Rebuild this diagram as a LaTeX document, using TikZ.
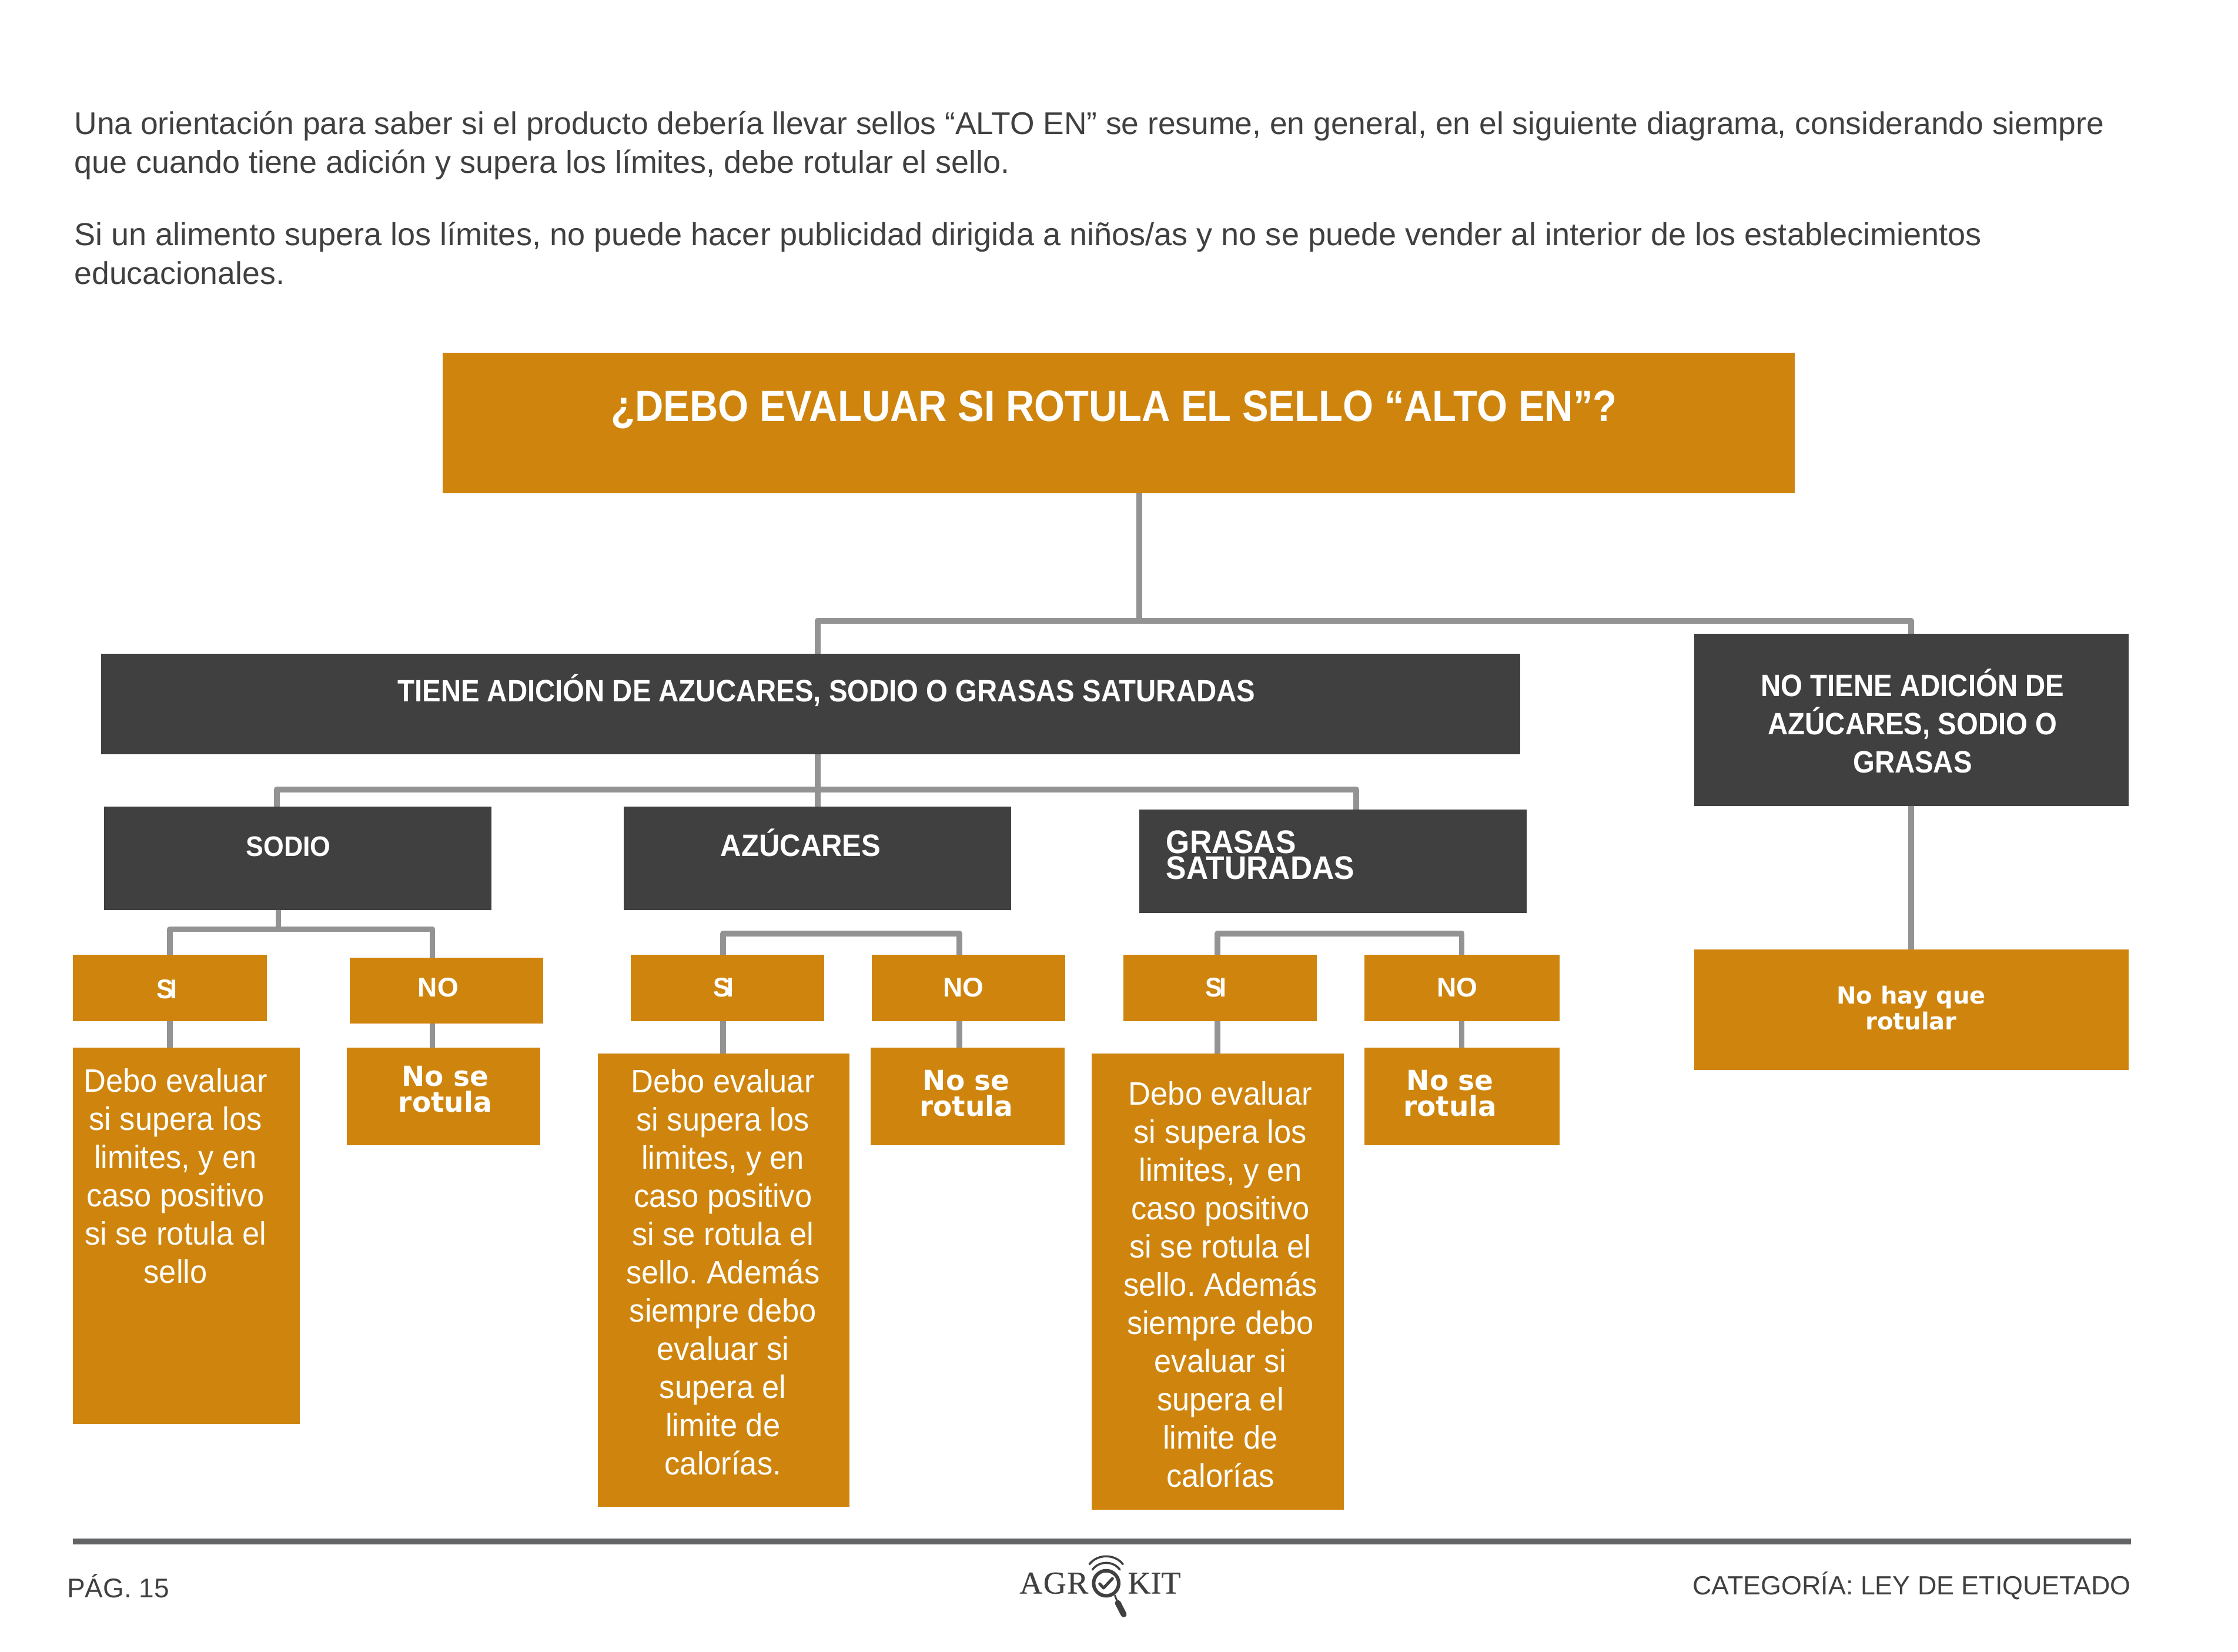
\documentclass[tikz,border=0pt]{standalone}
\usepackage{fontspec}
\setmainfont{Liberation Sans}
\newfontfamily\widefont{DejaVu Sans}
\newfontfamily\logofont[FakeBold=0.5]{Liberation Serif}
\newfontfamily\condfont[FakeStretch=0.9]{Liberation Sans}
\newfontfamily\subfont[FakeStretch=0.93]{Liberation Sans}
\newfontfamily\bodyfont[FakeStretch=0.95]{Liberation Sans}
\usetikzlibrary{calc}
\definecolor{gold}{HTML}{CF850D}
\definecolor{slate}{HTML}{404040}
\definecolor{wire}{HTML}{939393}
\definecolor{rule}{HTML}{636466}
\def\U{2.42793}
\newcommand{\fs}[2]{\fontsize{#1}{#2}\selectfont}
\newcommand{\bx}[6]{\node[#6,minimum width={(#4-#2)*\U*1pt},minimum height={(#5-#3)*\U*1pt}] (#1) at ({(#2+#4)/2},{(#3+#5)/2}) {};}
\newcommand{\siword}{S\kern-5pt I}
\tikzset{
  x=2.42793pt,y=-2.42793pt,
  goldbox/.style={fill=gold,draw=none,inner sep=0pt,outer sep=0pt},
  darkbox/.style={fill=slate,draw=none,inner sep=0pt,outer sep=0pt},
  conn/.style={draw=wire,line width=10pt,line join=round},
  connthin/.style={draw=wire,line width=9.5pt,line join=round},
  lbl/.style={text=white,inner sep=0pt,align=center},
  head/.style={lbl,font=\condfont\bfseries\fs{52.6}{65}},
  sub/.style={lbl,font=\subfont\bfseries\fs{48}{44}},
  yesno/.style={lbl,font=\bfseries\fs{46}{50}},
  yestxt/.style={lbl,font=\subfont\bfseries\fs{46}{50}},
  bodytxt/.style={lbl,font=\bodyfont\frenchspacing\fs{55.2}{65}},
  nose/.style={lbl,font=\widefont\bfseries\fs{47}{44}},
  para/.style={text=slate,inner sep=0pt,align=left,anchor=west,font=\fs{53.6}{65.5}},
  foot/.style={text=slate,inner sep=0pt},
  logotxt/.style={text=slate,inner sep=0pt,font=\logofont\fs{54}{60}},
}
\begin{document}
\begin{tikzpicture}
\useasboundingbox (0,0) rectangle (1568,1157);
\fill[white] (0,0) rectangle (1568,1157);

% paragraphs
\node[para] (p1) at (52,102) {\fs{53.4}{65.5}Una orientación para saber si el producto debería llevar sellos “ALTO EN” se resume, en general, en el siguiente diagrama, considerando siempre\\\fs{53.9}{65.5}que cuando tiene adición y supera los límites, debe rotular el sello.};
\node[para] (p2) at (52,177.5) {\fs{54.1}{65.5}Si un alimento supera los límites, no puede hacer publicidad dirigida a niños/as y no se puede vender al interior de los establecimientos\\educacionales.};

% connector junctions
\coordinate (b0) at (798,435);
\coordinate (bL) at (573,435);
\coordinate (bR) at (1339,435);
\coordinate (c0) at (573,553);
\coordinate (cL) at (194,553);
\coordinate (cR) at (950,553);
\coordinate (d0) at (195,651);
\coordinate (dL) at (119,651);
\coordinate (dR) at (303,651);
\coordinate (eL) at (506.7,654);
\coordinate (eR) at (672.2,654);
\coordinate (fL) at (853,654);
\coordinate (fR) at (1024.2,654);

% boxes
\bx{top}{310}{247}{1257.5}{345.5}{goldbox}
\bx{tiene}{71}{458}{1065}{528.5}{darkbox}
\bx{notiene}{1187}{444}{1491.5}{564.5}{darkbox}
\bx{sodio}{73}{565}{344.5}{637.5}{darkbox}
\bx{azuc}{437}{565}{708.5}{637.5}{darkbox}
\bx{grasas}{798}{567}{1069.5}{639.5}{darkbox}
\bx{si1}{51}{669}{187}{715.5}{goldbox}
\bx{no1}{245}{671}{380.5}{717}{goldbox}
\bx{si2}{442}{669}{577.5}{715.5}{goldbox}
\bx{no2}{611}{669}{746.5}{715.5}{goldbox}
\bx{si3}{787}{669}{922.5}{715.5}{goldbox}
\bx{no3}{956}{669}{1092.5}{715.5}{goldbox}
\bx{deb1}{51}{734}{210}{997.5}{goldbox}
\bx{nos1}{243}{734}{378.5}{802.5}{goldbox}
\bx{deb2}{419}{738}{595}{1055.5}{goldbox}
\bx{nos2}{610}{734}{746}{802.5}{goldbox}
\bx{deb3}{765}{738}{941.5}{1057.5}{goldbox}
\bx{nos3}{956}{734}{1092.5}{802.5}{goldbox}
\bx{nohay}{1187}{665}{1491.5}{749.5}{goldbox}

\draw[conn] (top.south -| b0) -- (b0);
\draw[conn] (tiene.north -| bL) -- (bL) -- (bR) -- (notiene.north -| bR);
\draw[conn] (tiene.south -| c0) -- (c0);
\draw[conn] (sodio.north -| cL) -- (cL) -- (cR) -- (grasas.north -| cR);
\draw[conn] (azuc.north -| c0) -- (c0);
\draw[conn] (notiene.south -| bR) -- (nohay.north -| bR);
\draw[connthin] (sodio.south -| d0) -- (d0);
\draw[connthin] (si1.north -| dL) -- (dL) -- (dR) -- (no1.north -| dR);
\draw[connthin] (si1.south -| dL) -- (deb1.north -| dL);
\draw[connthin] (no1.south -| dR) -- (nos1.north -| dR);
\draw[connthin] (si2.north -| eL) -- (eL) -- (eR) -- (no2.north -| eR);
\draw[connthin] (si2.south -| eL) -- (deb2.north -| eL);
\draw[connthin] (no2.south -| eR) -- (nos2.north -| eR);
\draw[connthin] (si3.north -| fL) -- (fL) -- (fR) -- (no3.north -| fR);
\draw[connthin] (si3.south -| fL) -- (deb3.north -| fL);
\draw[connthin] (no3.south -| fR) -- (nos3.north -| fR);

% labels
\node[lbl,font=\condfont\bfseries\fs{74.4}{90}] (tTop) at (780.5,287) {¿DEBO EVALUAR SI ROTULA EL SELLO “ALTO EN”?};
\node[head] (tTiene) at (579,483.5) {TIENE ADICIÓN DE AZUCARES, SODIO O GRASAS SATURADAS};
\node[head] (tNo) at (1340,505) {NO TIENE ADICIÓN DE\\AZÚCARES, SODIO O\\GRASAS};
\node[sub] (tSodio) at (202,593) {SODIO};
\node[sub,font=\subfont\bfseries\fs{52.7}{44}] (tAzuc) at (561,590.5) {AZÚCARES};
\node[sub,align=left,anchor=west,font=\subfont\bfseries\fs{55.5}{44}] (tGras) at (817,599.2) {GRASAS\\SATURADAS};
\node[yestxt] (tSi1) at (117,693) {\siword};
\node[yesno] (tNo1) at (307,692) {NO};
\node[yestxt] (tSi2) at (507,692) {\siword};
\node[yesno] (tNo2) at (675,692) {NO};
\node[yestxt] (tSi3) at (852,692) {\siword};
\node[yesno] (tNo3) at (1021,692) {NO};
\node[bodytxt] (tD1) at (123,824) {Debo evaluar\\si supera los\\limites, y en\\caso positivo\\si se rotula el\\sello};
\node[bodytxt] (tD2) at (506.5,891) {Debo evaluar\\si supera los\\limites, y en\\caso positivo\\si se rotula el\\sello. Además\\siempre debo\\evaluar si\\supera el\\limite de\\calorías.};
\node[bodytxt] (tD3) at (855,900) {Debo evaluar\\si supera los\\limites, y en\\caso positivo\\si se rotula el\\sello. Además\\siempre debo\\evaluar si\\supera el\\limite de\\calorías};
\node[nose] (tN1) at (312,763) {No se\\rotula};
\node[nose] (tN2) at (677,766) {No se\\rotula};
\node[nose] (tN3) at (1016,766) {No se\\rotula};
\node[nose,font=\widefont\bfseries\fs{40}{44}] (tNH) at (1339,706) {No hay que\\rotular};

% footer
\draw[draw=rule,line width=10pt] (51,1080) -- (1493,1080);
\node[foot,anchor=west,font=\fs{46}{60}] (pg) at (47,1111) {PÁG. 15};
\node[foot,anchor=east,font=\fs{44.8}{60}] (cat) at (1493,1111) {CATEGORÍA: LEY DE ETIQUETADO};
\node[logotxt,anchor=base east] (lgA) at (762.6,1116.4) {A\kern1.5pt G\kern1.5pt R};
\node[logotxt,anchor=base west] (lgK) at (790.1,1116.4) {KIT};
\draw[slate,line width=6pt] (775,1109.2) circle [radius=8.8];
\draw[slate,line width=3.5pt,line cap=round] (765.4,1099.7) .. controls (770,1093.3) and (780,1093.3) .. (784.6,1099.7);
\draw[slate,line width=3.5pt,line cap=round] (763.3,1095.8) .. controls (769,1088.5) and (781,1088.5) .. (786.7,1095.8);
\draw[slate,line width=5pt,line cap=round,line join=round] (770.5,1109.6) -- (773.2,1112.5) -- (779.4,1105.9);
\draw[slate,line width=3pt] (781,1117.5) -- (783.2,1123);
\draw[slate,line width=10pt,line cap=round] (783.2,1123) -- (787.3,1131);
\end{tikzpicture}
\end{document}
